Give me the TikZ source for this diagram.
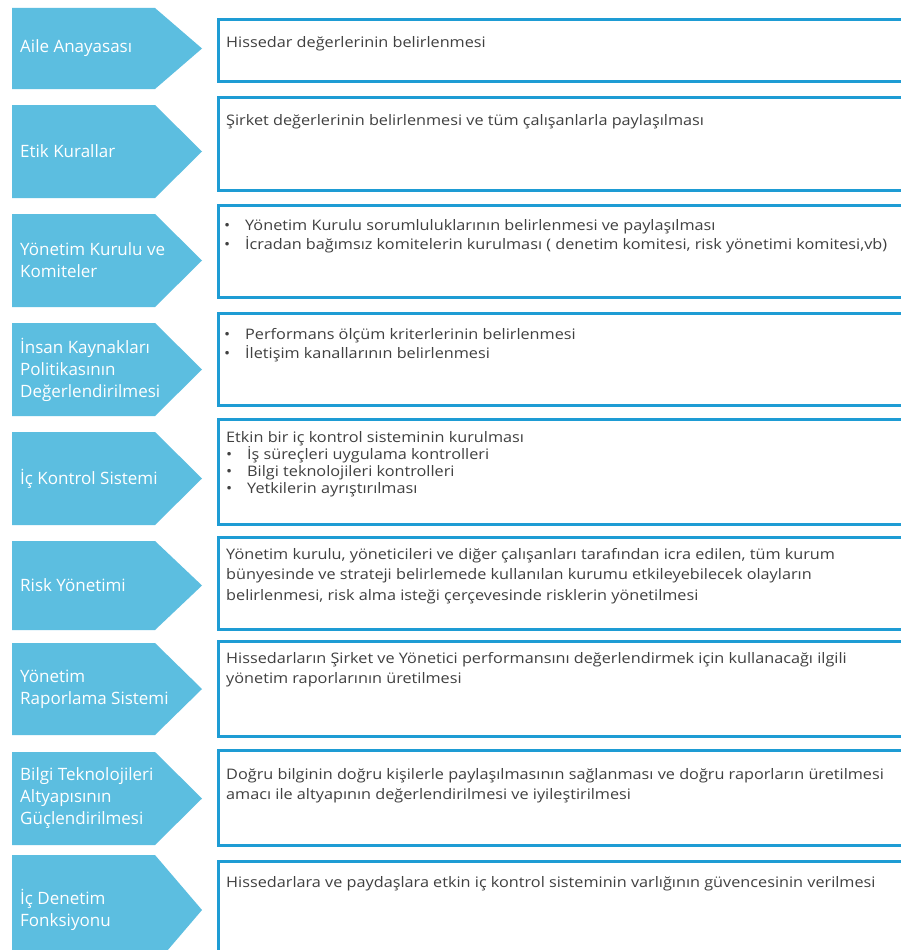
\documentclass[tikz,border=0pt]{standalone}
\usepackage{fontspec}
\setmainfont[FakeStretch=1.12]{Open Sans}
\newfontfamily\labelsans{Open Sans}
\definecolor{chevron}{RGB}{92,190,224}
\definecolor{frameblue}{RGB}{30,156,212}
\definecolor{bodytext}{RGB}{64,64,64}

% arrow of one stage: top, bottom
\newcommand{\stagearrow}[2]{%
  \fill[stage] (12,#1) -- (155,#1) -- (202,{(#1+#2)/2}) -- (155,#2) -- (12,#2) -- cycle;}
\newcommand{\bul}{\makebox[21pt][l]{•}}

\begin{document}
\begin{tikzpicture}[x=1pt, y=-1pt,
  stage/.style={fill=chevron},
  stagelabel/.style={anchor=west, align=left, text=white, inner sep=0pt,
    font=\labelsans\fontsize{17}{22}\selectfont},
  panel/.style={draw=frameblue, line width=3pt},
  paneltext/.style={anchor=north west, align=left, text=bodytext, inner sep=0pt,
    font=\fontsize{14.5}{20}\selectfont, execute at begin node={\rule{0pt}{15pt}}}]
  \clip (0,0) rectangle (901,950);
  \fill[white] (0,0) rectangle (901,950);

  % Aile Anayasasi
  \stagearrow{8}{89}
  \node[stagelabel] (lab1) at (20,48.5) {Aile Anayasası};
  \draw[panel] (218.5,19.5) rectangle (920,81.5);
  \node[paneltext] (txt1) at (226,32) {Hissedar değerlerinin belirlenmesi};

  % Etik Kurallar
  \stagearrow{105}{198}
  \node[stagelabel] (lab2) at (20,151.5) {Etik Kurallar};
  \draw[panel] (218.5,97.5) rectangle (920,190.5);
  \node[paneltext] (txt2) at (226,110) {Şirket değerlerinin belirlenmesi ve tüm çalışanlarla paylaşılması};

  % Yonetim Kurulu
  \stagearrow{214}{307}
  \node[stagelabel] (lab3) at (20,260.5) {Yönetim Kurulu ve\\Komiteler};
  \draw[panel] (218.5,205.5) rectangle (920,297.5);
  \node[paneltext, font=\fontsize{14.5}{19}\selectfont] (txt3) at (224,219) {\bul Yönetim Kurulu sorumluluklarının belirlenmesi ve paylaşılması\\
    \bul İcradan bağımsız komitelerin kurulması ( denetim komitesi, risk yönetimi komitesi,vb)};

  % Insan Kaynaklari
  \stagearrow{323}{416}
  \node[stagelabel] (lab4) at (20,369.5) {İnsan Kaynakları\\Politikasının\\Değerlendirilmesi};
  \draw[panel] (218.5,313.5) rectangle (920,405.5);
  \node[paneltext, font=\fontsize{14.5}{19}\selectfont] (txt4) at (224,328) {\bul Performans ölçüm kriterlerinin belirlenmesi\\
    \bul İletişim kanallarının belirlenmesi};

  % Ic Kontrol
  \stagearrow{432}{525}
  \node[stagelabel] (lab5) at (20,478.5) {İç Kontrol Sistemi};
  \draw[panel] (218.5,419.5) rectangle (920,524.5);
  \node[paneltext, font=\fontsize{14.5}{17}\selectfont] (txt5) at (226,431) {Etkin bir iç kontrol sisteminin kurulması\\
    \bul İş süreçleri uygulama kontrolleri\\
    \bul Bilgi teknolojileri kontrolleri\\
    \bul Yetkilerin ayrıştırılması};

  % Risk Yonetimi
  \stagearrow{541}{630}
  \node[stagelabel] (lab6) at (20,585.5) {Risk Yönetimi};
  \draw[panel] (218.5,537.5) rectangle (920,629.5);
  \node[paneltext, font=\fontsize{14.5}{20.5}\selectfont] (txt6) at (226,548) {Yönetim kurulu, yöneticileri ve diğer çalışanları tarafından icra edilen, tüm kurum\\
    bünyesinde ve strateji belirlemede kullanılan kurumu etkileyebilecek olayların\\
    belirlenmesi, risk alma isteği çerçevesinde risklerin yönetilmesi};

  % Yonetim Raporlama
  \stagearrow{643}{735}
  \node[stagelabel] (lab7) at (20,689) {Yönetim\\Raporlama Sistemi};
  \draw[panel] (218.5,641.5) rectangle (920,736.5);
  \node[paneltext] (txt7) at (226,652) {Hissedarların Şirket ve Yönetici performansını değerlendirmek için kullanacağı ilgili\\
    yönetim raporlarının üretilmesi};

  % Bilgi Teknolojileri
  \stagearrow{752}{845}
  \node[stagelabel] (lab8) at (20,798.5) {Bilgi Teknolojileri\\Altyapısının\\Güçlendirilmesi};
  \draw[panel] (218.5,750.5) rectangle (920,845.5);
  \node[paneltext] (txt8) at (226,768) {Doğru bilginin doğru kişilerle paylaşılmasının sağlanması ve doğru raporların üretilmesi\\
    amacı ile altyapının değerlendirilmesi ve iyileştirilmesi};

  % Ic Denetim
  \stagearrow{855}{965}
  \node[stagelabel] (lab9) at (20,910) {İç Denetim\\Fonksiyonu};
  \draw[panel] (218.5,861.5) rectangle (920,970);
  \node[paneltext] (txt9) at (226,872) {Hissedarlara ve paydaşlara etkin iç kontrol sisteminin varlığının güvencesinin verilmesi};
\end{tikzpicture}
\end{document}
